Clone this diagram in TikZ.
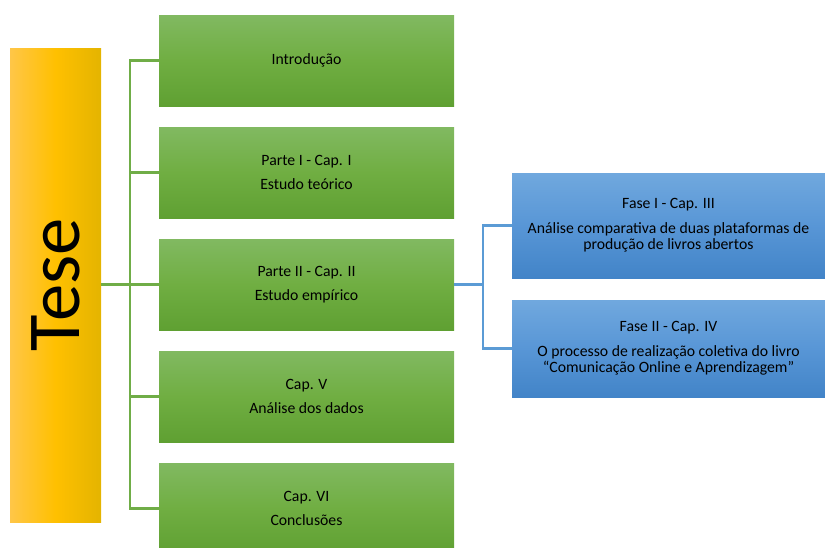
\documentclass[tikz,border=0pt]{standalone}
\usepackage{fontspec}
\usepackage{graphicx}
\setmainfont{Carlito}
\definecolor{gtop}{RGB}{129,185,97}
\definecolor{gmid}{RGB}{112,174,66}
\definecolor{gbot}{RGB}{95,160,50}
\definecolor{btop}{RGB}{112,168,222}
\definecolor{bmid}{RGB}{88,150,214}
\definecolor{bbot}{RGB}{66,132,200}
\definecolor{yleft}{RGB}{255,198,72}
\definecolor{ymid}{RGB}{255,192,0}
\definecolor{yright}{RGB}{228,180,0}
\definecolor{gline}{RGB}{112,173,71}
\definecolor{bline}{RGB}{91,155,213}
\tikzset{
  greenbox/.style={rectangle, inner sep=0pt, minimum width=221.25pt, minimum height=68.25pt,
    top color=gtop, bottom color=gbot, middle color=gmid, text=black, align=center,
    font=\fontsize{11.8}{12}\selectfont},
  bluebox/.style={rectangle, inner sep=0pt, minimum width=234.75pt,
    top color=btop, bottom color=bbot, middle color=bmid, text=black, align=center,
    font=\fontsize{11.8}{12}\selectfont},
  tesebox/.style={rectangle, inner sep=0pt, minimum width=68.25pt, minimum height=355.5pt,
    left color=yleft, right color=yright, middle color=ymid, text=black,
    font=\fontsize{56}{60}\selectfont},
  gconn/.style={draw=gline, line width=1.6pt},
  bconn/.style={draw=bline, line width=1.6pt}
}
\begin{document}
\begin{tikzpicture}[x=0.75pt,y=-0.75pt]
\useasboundingbox (0,0) rectangle (825,547);
\node[tesebox] (tese) at (55.5,285) {\rotatebox{90}{Tese}};
\node[greenbox] (b1) at (306.5,60.5) {Introdução};
\node[greenbox] (b2) at (306.5,172.5) {Parte I - Cap. I\\[6pt]Estudo teórico};
\node[greenbox] (b3) at (306.5,284.5) {Parte II - Cap. II\\[6pt]Estudo empírico};
\node[greenbox] (b4) at (306.5,396.5) {Cap. V\\[6pt]Análise dos dados};
\node[greenbox] (b5) at (306.5,508.5) {Cap. VI\\[6pt]Conclusões};
\node[bluebox, minimum height=78.75pt] (f1) at (668.5,225.5) {Fase I - Cap. III\\[6.5pt]Análise comparativa de duas plataformas de\\produção de livros abertos};
\node[bluebox, minimum height=72.75pt] (f2) at (668.5,348.5) {Fase II - Cap. IV\\[6.5pt]O processo de realização coletiva do livro\\“Comunicação Online e Aprendizagem”};
\coordinate (gbus) at (130,0);
\coordinate (bbus) at (483,0);
\draw[gconn] (b1.west) -- (b1.west -| gbus) -- (b5.west -| gbus) -- (b5.west);
\draw[gconn] (b2.west) -- (b2.west -| gbus);
\draw[gconn] (b4.west) -- (b4.west -| gbus);
\draw[gconn] (tese.east |- b3.west) -- (b3.west);
\draw[bconn] (b3.east) -- (b3.east -| bbus);
\draw[bconn] (f1.west) -- (f1.west -| bbus) -- (f2.west -| bbus) -- (f2.west);
\end{tikzpicture}
\end{document}
